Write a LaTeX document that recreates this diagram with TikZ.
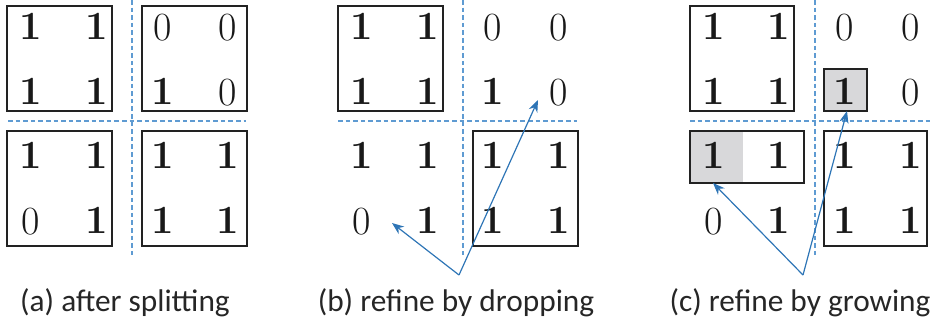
\documentclass[tikz,border=0pt]{standalone}
\usepackage{fontspec}
\newfontfamily\capfont{Carlito}
\usetikzlibrary{arrows.meta}
\definecolor{boxline}{RGB}{34,34,34}
\definecolor{dashblue}{RGB}{95,155,210}
\definecolor{arrblue}{RGB}{46,117,182}
\definecolor{cellgray}{RGB}{216,216,218}
\tikzset{
  cellbox/.style={draw=boxline, line width=2.2pt},
  graybox/.style={fill=cellgray},
  divider/.style={draw=dashblue, line width=1.5pt, dash pattern=on 3.5pt off 2.2pt},
  digit/.style={anchor=base, inner sep=0pt, text=black!90, font=\rmfamily\fontsize{30}{31}\selectfont},
  one/.style={digit, font=\rmfamily\fontsize{30}{31}\selectfont\bfseries},
  zero/.style={digit},
  pointer/.style={draw=arrblue, line width=0.9pt, -{Stealth[length=9pt, width=7pt]}},
  caption/.style={anchor=base, inner sep=0pt, font=\capfont\fontsize{23.5}{25}\selectfont, text=black!85}
}
\begin{document}
\begin{tikzpicture}[x=0.75pt, y=-0.75pt]
\useasboundingbox (0,0) rectangle (932,325);
% ---------------- panel (a)
\draw[divider] (132,0) -- (132,256);
\draw[divider] (8,121) -- (246,121);
\draw[cellbox] (7,6) rectangle (112,111);
\draw[cellbox] (142,6) rectangle (247,111);
\draw[cellbox] (7,131) rectangle (112,246);
\draw[cellbox] (142,131) rectangle (247,246);
\node[one]  (a11) at (31,39)  {1};
\node[one]  (a12) at (97,39)  {1};
\node[one]  (a21) at (31,104) {1};
\node[one]  (a22) at (97,104) {1};
\node[zero] (a13) at (163,40) {0};
\node[zero] (a14) at (228,40) {0};
\node[one]  (a23) at (163,104) {1};
\node[zero] (a24) at (228,105) {0};
\node[one]  (a31) at (31,168) {1};
\node[one]  (a32) at (97,168) {1};
\node[zero] (a41) at (31,234) {0};
\node[one]  (a42) at (97,233) {1};
\node[one]  (a33) at (163,168) {1};
\node[one]  (a34) at (228,168) {1};
\node[one]  (a43) at (163,233) {1};
\node[one]  (a44) at (228,233) {1};
\node[caption] (capa) at (125,311) {(a) after splitting};
% ---------------- panel (b)
\draw[divider] (463,0) -- (463,256);
\draw[divider] (338,121) -- (577,121);
\draw[cellbox] (338,6) rectangle (443,111);
\draw[cellbox] (473,131) rectangle (578,246);
\node[one]  (b11) at (362,39)  {1};
\node[one]  (b12) at (428,39)  {1};
\node[one]  (b21) at (362,104) {1};
\node[one]  (b22) at (428,104) {1};
\node[zero] (b13) at (493,40) {0};
\node[zero] (b14) at (559,40) {0};
\node[one]  (b23) at (493,104) {1};
\node[zero] (b24) at (559,105) {0};
\node[one]  (b31) at (362,168) {1};
\node[one]  (b32) at (428,168) {1};
\node[zero] (b41) at (362,234) {0};
\node[one]  (b42) at (428,233) {1};
\node[one]  (b33) at (493,168) {1};
\node[one]  (b34) at (559,168) {1};
\node[one]  (b43) at (493,233) {1};
\node[one]  (b44) at (559,233) {1};
\coordinate (bsrc) at (459,275);
\coordinate (btipA) at (538,100);
\coordinate (btipB) at (392,223);
\draw[pointer] (bsrc) -- (btipA);
\draw[pointer] (bsrc) -- (btipB);
\node[caption] (capb) at (456,311) {(b) refine by dropping};
% ---------------- panel (c)
\draw[divider] (815,0) -- (815,256);
\draw[divider] (690,121) -- (930,121);
\fill[graybox] (824,69) rectangle (867,111);
\fill[graybox] (690,131) rectangle (743,183);
\draw[cellbox] (690,6) rectangle (794,111);
\draw[cellbox] (824,69) rectangle (867,111);
\draw[cellbox] (690,131) rectangle (804,183);
\draw[cellbox] (824,131) rectangle (927,246);
\node[one]  (c11) at (714,39)  {1};
\node[one]  (c12) at (779,39)  {1};
\node[one]  (c21) at (714,104) {1};
\node[one]  (c22) at (779,104) {1};
\node[zero] (c13) at (845,40) {0};
\node[zero] (c14) at (911,40) {0};
\node[one]  (c23) at (845,104) {1};
\node[zero] (c24) at (911,105) {0};
\node[one]  (c31) at (714,168) {1};
\node[one]  (c32) at (779,168) {1};
\node[zero] (c41) at (714,234) {0};
\node[one]  (c42) at (779,233) {1};
\node[one]  (c33) at (845,168) {1};
\node[one]  (c34) at (911,168) {1};
\node[one]  (c43) at (845,233) {1};
\node[one]  (c44) at (911,233) {1};
\coordinate (csrc) at (803,275);
\coordinate (ctipA) at (713,183);
\coordinate (ctipB) at (847,111);
\draw[pointer] (csrc) -- (ctipA);
\draw[pointer] (csrc) -- (ctipB);
\node[caption] (capc) at (800,311) {(c) refine by growing};
\end{tikzpicture}
\end{document}
